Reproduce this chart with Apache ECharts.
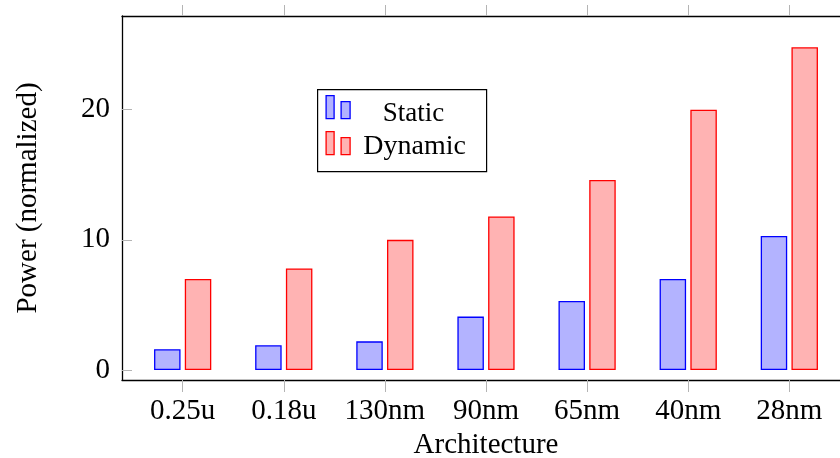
<!DOCTYPE html>
<html>
<head>
<meta charset="utf-8">
<script src="https://cdn.jsdelivr.net/npm/echarts@6/dist/echarts.min.js"></script>
<style>
  html, body { margin: 0; padding: 0; background: #fff; }
  #chart { width: 840px; height: 458px; }
</style>
</head>
<body>
<div id="chart"></div>
<script>
// Process nodes and normalized power per node
const categories = ['0.25u', '0.18u', '130nm', '90nm', '65nm', '40nm', '28nm'];
const seriesNames = ['Static', 'Dynamic'];
const staticPower = [1.6, 1.9, 2.2, 4.1, 5.3, 7.0, 10.3];
const dynamicPower = [7.0, 7.8, 10.0, 11.8, 14.6, 20.0, 24.8];
const yTicks = [0, 10, 20];

const FONT = '"Liberation Serif", "DejaVu Serif", serif';
const TICK_GREY = '#b4b4b4';
const catIdx = categories.map((c, i) => i);

const chart = echarts.init(document.getElementById('chart'), null, { renderer: 'canvas' });

const xMin = -0.6, xMax = categories.length - 1 + 0.6;
const yMin = -0.77, yMax = 27.2;

chart.setOption({
  animation: false,
  backgroundColor: '#fff',
  grid: { left: 122, right: -10, top: 16, bottom: 78, containLabel: false, outerBoundsMode: 'none' },
  xAxis: [
    {
      type: 'value', min: xMin, max: xMax, position: 'bottom',
      name: 'Architecture', nameLocation: 'middle', nameGap: 49,
      nameTextStyle: { fontFamily: FONT, fontSize: 29, color: '#000' },
      axisLine: { show: true, onZero: false, lineStyle: { color: '#000', width: 1.3 } },
      axisTick: { show: true, inside: false, length: 12, customValues: catIdx,
                  lineStyle: { color: TICK_GREY, width: 1 } },
      axisLabel: { customValues: catIdx, margin: 17, fontFamily: FONT, fontSize: 29, color: '#000',
                   formatter: v => categories[Math.round(v)] },
      splitLine: { show: false }
    },
    {
      type: 'value', min: xMin, max: xMax, position: 'top',
      axisLine: { show: true, onZero: false, lineStyle: { color: '#000', width: 1.3 } },
      axisTick: { show: true, inside: false, length: 11, customValues: catIdx,
                  lineStyle: { color: TICK_GREY, width: 1 } },
      axisLabel: { show: false },
      splitLine: { show: false }
    }
  ],
  yAxis: [
    {
      type: 'value', min: yMin, max: yMax, position: 'left',
      name: 'Power (normalized)', nameLocation: 'middle', nameGap: 79,
      nameTextStyle: { fontFamily: FONT, fontSize: 29, color: '#000' },
      axisLine: { show: true, onZero: false, lineStyle: { color: '#000', width: 1.3 } },
      axisTick: { show: true, inside: true, length: 10, customValues: yTicks,
                  lineStyle: { color: TICK_GREY, width: 1 } },
      axisLabel: { customValues: yTicks, margin: 12, fontFamily: FONT, fontSize: 29, color: '#000' },
      splitLine: { show: false }
    },
    {
      type: 'value', min: yMin, max: yMax, position: 'right',
      axisLine: { show: true, onZero: false, lineStyle: { color: '#000', width: 1.3 } },
      axisTick: { show: true, inside: true, length: 10, customValues: yTicks,
                  lineStyle: { color: TICK_GREY, width: 1 } },
      axisLabel: { show: false },
      splitLine: { show: false }
    }
  ],
  series: [
    {
      name: seriesNames[0], type: 'bar', xAxisIndex: 0, yAxisIndex: 0,
      barWidth: 26.5, barGap: '16%',
      itemStyle: { color: '#b3b3ff', borderColor: '#0000ff', borderWidth: 1.3 },
      data: staticPower.map((v, i) => [i, v])
    },
    {
      name: seriesNames[1], type: 'bar', xAxisIndex: 0, yAxisIndex: 0,
      barWidth: 26.5, barGap: '16%',
      itemStyle: { color: '#ffb3b3', borderColor: '#ff0000', borderWidth: 1.3 },
      data: dynamicPower.map((v, i) => [i, v])
    }
  ],
  graphic: [
    {
      type: 'group', left: 317, top: 89,
      children: [
        { type: 'rect', shape: { x: 0, y: 0, width: 169, height: 82 },
          style: { fill: '#fff', stroke: '#000', lineWidth: 1.2 } },
        // Static entry
        { type: 'rect', shape: { x: 8.5, y: 6, width: 8, height: 23 },
          style: { fill: '#b3b3ff', stroke: '#0000ff', lineWidth: 1.3 } },
        { type: 'rect', shape: { x: 23.5, y: 12, width: 9, height: 17 },
          style: { fill: '#b3b3ff', stroke: '#0000ff', lineWidth: 1.3 } },
        { type: 'text', x: 96, y: 24,
          style: { text: seriesNames[0], font: '27px ' + FONT, fill: '#000',
                   align: 'center', verticalAlign: 'middle' } },
        // Dynamic entry
        { type: 'rect', shape: { x: 8.5, y: 42, width: 8, height: 23 },
          style: { fill: '#ffb3b3', stroke: '#ff0000', lineWidth: 1.3 } },
        { type: 'rect', shape: { x: 23.5, y: 48, width: 9, height: 17 },
          style: { fill: '#ffb3b3', stroke: '#ff0000', lineWidth: 1.3 } },
        { type: 'text', x: 97, y: 57,
          style: { text: seriesNames[1], font: '28px ' + FONT, fill: '#000',
                   align: 'center', verticalAlign: 'middle' } }
      ]
    }
  ]
});
</script>
</body>
</html>
